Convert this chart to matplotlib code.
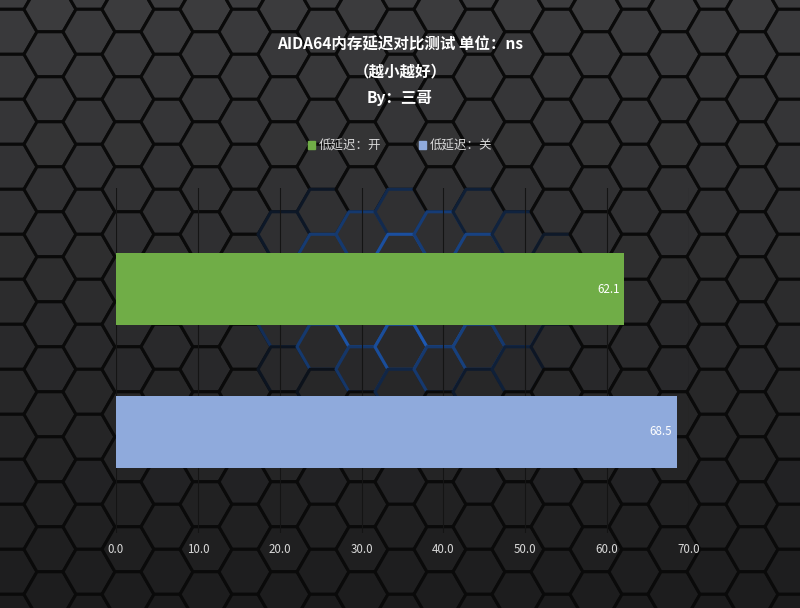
import matplotlib.pyplot as plt
import numpy as np
from matplotlib.collections import PolyCollection
from matplotlib.patches import Patch
from matplotlib.ticker import FormatStrFormatter

plt.rcParams['font.family'] = ['Noto Sans CJK SC', 'DejaVu Sans']

# 数据
series = ['低延迟：开', '低延迟：关']
values = [62.1, 68.5]
colors = ['#70ad47', '#8faadc']
xticks = [0, 10, 20, 30, 40, 50, 60, 70]
title_lines = ['AIDA64内存延迟对比测试 单位：ns', '（越小越好）', 'By：三哥']

W, H = 800, 608
fig = plt.figure(figsize=(W / 100, H / 100), dpi=100)

# --- 蜂窝背景 ---
bg = fig.add_axes([0, 0, 1, 1], zorder=0)
bg.set_xlim(0, W)
bg.set_ylim(H, 0)
bg.axis('off')
bg.add_patch(plt.Rectangle((0, 0), W, H, color='#0b0b0b'))

R = 26.0
ang = np.deg2rad(np.arange(0, 360, 60))
polys, faces, edges = [], [], []
top_c = np.array([0x3b, 0x3b, 0x3d]) / 255
bot_c = np.array([0x1c, 0x1c, 0x1d]) / 255
blue = np.array([0x24, 0x74, 0xee]) / 255
black = np.array([0x0a, 0x0a, 0x0a]) / 255
for i in range(-1, 23):
    cx = 50 + (i - 1) * 39
    for j in range(-2, 16):
        cy = 9.3 + j * 45 + ((i + 1) % 2) * 22.5
        polys.append(np.column_stack([cx + R * np.cos(ang), cy + R * np.sin(ang)]))
        t = np.clip(cy / H, 0, 1)
        faces.append(top_c * (1 - t) + bot_c * t)
        d = np.hypot((cx - 410) / 165, (cy - 300) / 105)
        k = 0.9 * np.clip(1.05 - d, 0, 1) ** 0.7
        edges.append(black * (1 - k) + blue * k)
bg.add_collection(PolyCollection(polys, facecolors=faces, edgecolors=edges,
                                 linewidths=2.2))

# --- 标题 ---
for n, line in enumerate(title_lines):
    fig.text(0.5, 1 - (45 + n * 26.5) / H, line, ha='center', va='center',
             color='white', fontsize=11.2, fontweight='bold')

# --- 条形图 ---
x0, x1, y0, y1 = 116, 689, 188, 533
ax = fig.add_axes([x0 / W, 1 - y1 / H, (x1 - x0) / W, (y1 - y0) / H], zorder=1)
ax.set_facecolor('none')
n_s = len(values)
pos = -(np.arange(n_s) - (n_s - 1) / 2) * 0.414
for p, v, c, s in zip(pos, values, colors, series):
    ax.barh(p, v, height=0.209, color=c, label=s, zorder=3)
    ax.text(v - 0.6, p, f'{v:.1f}', ha='right', va='center',
            color='white', fontsize=8.3, zorder=4)

ax.set_xlim(0, 70)
ax.set_ylim(-0.5, 0.5)
ax.set_xticks(xticks)
ax.xaxis.set_major_formatter(FormatStrFormatter('%.1f'))
ax.set_yticks([])
ax.tick_params(axis='x', length=0, pad=7, labelcolor='#d9d9d9', labelsize=8.3)
ax.grid(axis='x', color='#141414', linewidth=0.8, zorder=1)
for sp in ax.spines.values():
    sp.set_visible(False)

handles = [Patch(color=c, label=s) for c, s in zip(colors, series)]
fig.legend(handles=handles, loc='center', bbox_to_anchor=(0.5, 1 - 146 / H),
           ncol=2, frameon=False, handlelength=0.6, handleheight=0.6,
           handletextpad=0.3, columnspacing=3.0, fontsize=9,
           labelcolor='#d9d9d9')

fig.savefig('out.png', dpi=100)
